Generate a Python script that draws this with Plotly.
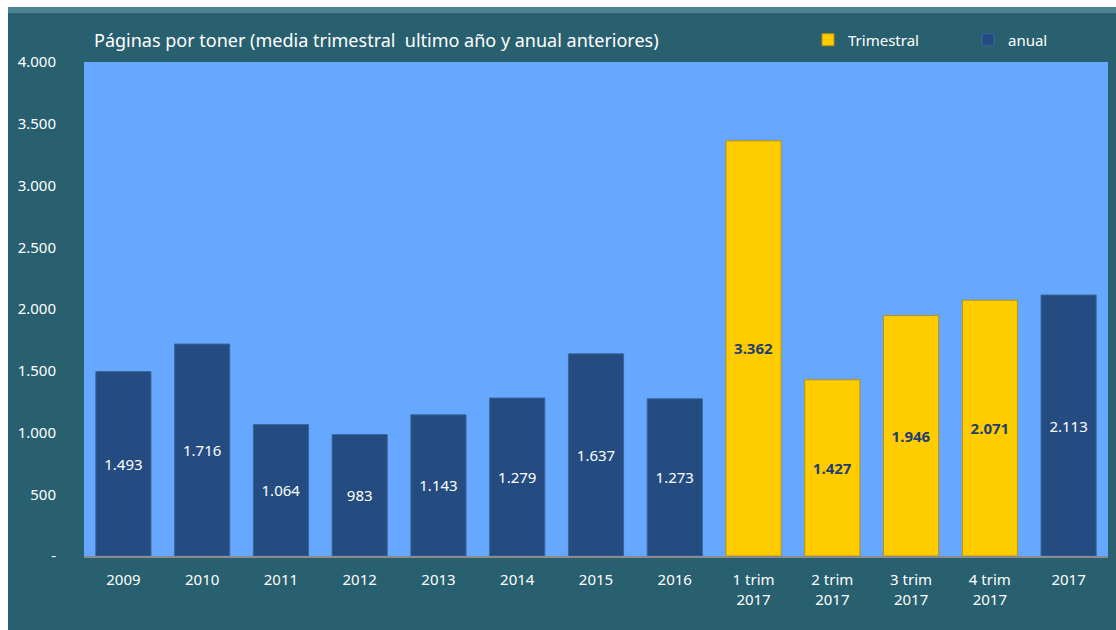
import plotly.graph_objects as go

# Pages per toner: yearly averages and the 2017 quarterly averages
categories = ["2009", "2010", "2011", "2012", "2013", "2014", "2015", "2016",
              "1 trim<br>2017", "2 trim<br>2017", "3 trim<br>2017", "4 trim<br>2017", "2017"]
annual_labels = ["2009", "2010", "2011", "2012", "2013", "2014", "2015", "2016", "2017"]
annual_values = [1493, 1716, 1064, 983, 1143, 1279, 1637, 1273, 2113]
quarter_labels = ["1 trim<br>2017", "2 trim<br>2017", "3 trim<br>2017", "4 trim<br>2017"]
quarter_values = [3362, 1427, 1946, 2071]
y_ticks = [0, 500, 1000, 1500, 2000, 2500, 3000, 3500, 4000]
y_tick_text = ["-", "500", "1.000", "1.500", "2.000", "2.500", "3.000", "3.500", "4.000"]

TEAL = "#28606f"
PLOT_BG = "#66a8ff"
NAVY = "#244c80"
YELLOW = "#ffcc00"
FONT = "Noto Sans"

W, H = 1116, 630
ML, MR, MT, MB = 84, 8, 62, 74
PW, PH = W - ML - MR, H - MT - MB

fig = go.Figure()
fig.add_trace(go.Bar(
    name="Trimestral", x=quarter_labels, y=quarter_values,
    marker=dict(color=YELLOW, line=dict(color="#b8900a", width=1)),
    texttemplate="%{y:,d}", textposition="inside", insidetextanchor="middle",
    textfont=dict(family=FONT, size=15, color="#1f3f73", weight="bold"),
    textangle=0,
))
fig.add_trace(go.Bar(
    name="anual", x=annual_labels, y=annual_values,
    marker=dict(color=NAVY, line=dict(color="#3a6599", width=1)),
    texttemplate="%{y:,d}", textposition="inside", insidetextanchor="middle",
    textfont=dict(family=FONT, size=15, color="white"),
    textangle=0,
))

# white frame around the teal card (left and top edges)
frame = [
    dict(x0=-ML / PW, x1=-(ML - 8) / PW, y0=-MB / PH, y1=1 + MT / PH),
    dict(x0=-ML / PW, x1=1 + MR / PW, y0=1 + (MT - 7) / PH, y1=1 + MT / PH),
]
for f in frame:
    fig.add_shape(type="rect", xref="paper", yref="paper", line_width=0,
                  fillcolor="white", layer="above", **f)
# lighter strip along the top of the card
fig.add_shape(type="rect", xref="paper", yref="paper", line_width=0,
              fillcolor="rgba(150,200,210,0.35)", layer="above",
              x0=-(ML - 8) / PW, x1=1 + MR / PW,
              y0=1 + (MT - 13) / PH, y1=1 + (MT - 7) / PH)

fig.add_annotation(
    text="Páginas por toner (media trimestral\u00a0 ultimo año y anual anteriores)",
    xref="paper", yref="paper", x=(92 - ML) / PW, y=1 + (MT - 40) / PH,
    xanchor="left", yanchor="middle", showarrow=False,
    font=dict(family=FONT, size=18, color="white"),
)

fig.update_layout(
    width=W, height=H,
    margin=dict(l=ML, r=MR, t=MT, b=MB, autoexpand=False),
    paper_bgcolor=TEAL, plot_bgcolor=PLOT_BG,
    barmode="overlay", bargap=0.3,
    separators=",.",
    font=dict(family=FONT, size=15, color="white"),
    showlegend=True,
    legend=dict(orientation="h", x=(808 - ML) / PW, y=1 + (MT - 40) / PH,
                xanchor="left", yanchor="middle",
                bgcolor="rgba(0,0,0,0)", font=dict(family=FONT, size=15, color="white"),
                entrywidth=115, entrywidthmode="pixels", itemwidth=30),
    xaxis=dict(categoryorder="array", categoryarray=categories,
               showgrid=False, showline=True, linecolor="#8c8c8c", linewidth=2,
               ticks="", tickfont=dict(family=FONT, size=15, color="white"),
               ticklabelstandoff=9),
    yaxis=dict(range=[0, 4000], tickvals=y_ticks, ticktext=y_tick_text,
               showgrid=False, zeroline=False, showline=False, ticks="",
               tickfont=dict(family=FONT, size=15, color="white"),
               ticklabelstandoff=27),
)

fig.write_html("out.html")
